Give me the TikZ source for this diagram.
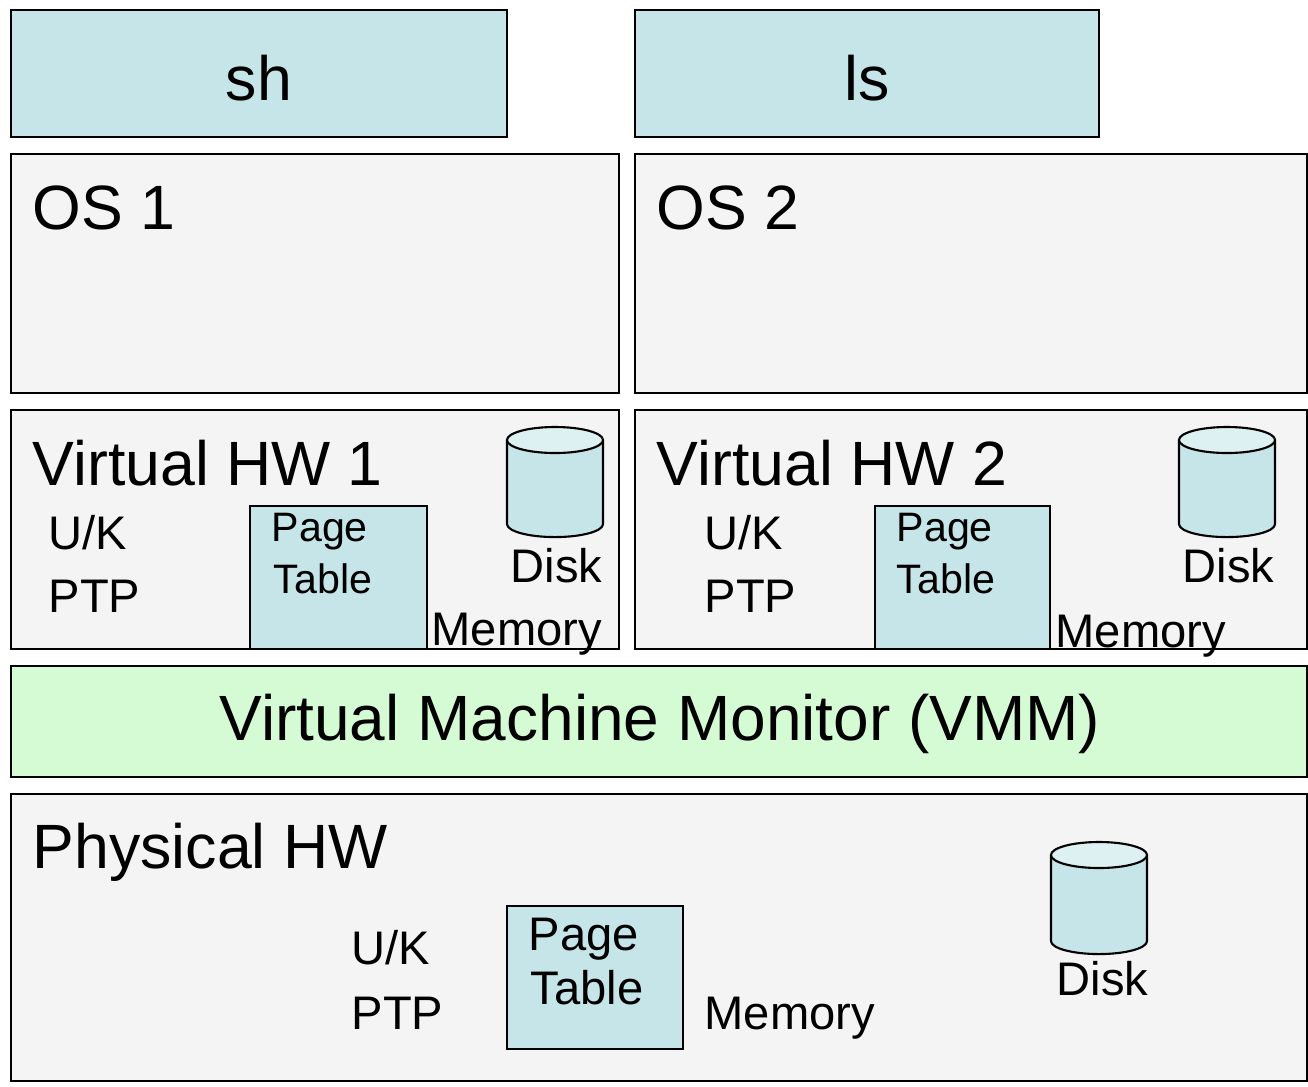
\documentclass[tikz,border=0pt]{standalone}
\usepackage{fontspec}
\setmainfont{Liberation Sans}
\definecolor{procfill}{HTML}{C5E5E8}
\definecolor{diskend}{HTML}{DDF1F3}
\definecolor{layerfill}{HTML}{F4F4F4}
\definecolor{vmmfill}{HTML}{D5FBD5}
\tikzset{
  layer/.style={draw=black,line width=0.6pt,fill=layerfill},
  big/.style={inner sep=0pt,font=\fontsize{17.8}{20}\selectfont},
  mid/.style={inner sep=0pt,font=\fontsize{13.4}{15}\selectfont},
  small/.style={inner sep=0pt,font=\fontsize{11.7}{13}\selectfont},
  pics/disk/.style={code={
    \filldraw[line width=0.6pt,fill=procfill] (-0.48cm,-0.13cm) -- (-0.48cm,-#1)
      arc[start angle=180,end angle=360,x radius=0.48cm,y radius=0.13cm] -- (0.48cm,-0.13cm);
    \filldraw[line width=0.6pt,fill=diskend] (0,-0.13cm) ellipse[x radius=0.48cm,y radius=0.13cm];
  }}
}
\begin{document}
\begin{tikzpicture}[x=0.01cm,y=-0.01cm]
\useasboundingbox (0,0) rectangle (1308,1087);
% processes
\filldraw[layer,fill=procfill] (11,10) rectangle (507,137);
\node[big,anchor=base] (sh) at (259,100) {sh};
\filldraw[layer,fill=procfill] (635,10) rectangle (1099,137);
\node[big,anchor=base] (ls) at (867,100) {ls};
% guest OS
\filldraw[layer] (11,154) rectangle (619,393);
\node[big,anchor=base west] (os1) at (32,229) {OS 1};
\filldraw[layer] (635,154) rectangle (1307,393);
\node[big,anchor=base west] (os2) at (656,229) {OS 2};
% virtual hardware 1
\filldraw[layer] (11,410) rectangle (619,649);
\node[big,anchor=base west] (vhw1) at (32,485) {Virtual HW 1};
\node[mid,anchor=base west] (uk1) at (48,549) {U/K};
\node[mid,anchor=base west] (ptp1) at (48,612) {PTP};
\filldraw[layer,fill=procfill] (250,506) rectangle (427,649);
\node[small,anchor=base west] (page1) at (271,541) {Page};
\node[small,anchor=base west] (table1) at (273,593) {Table};
\pic (disk1) at (555,427) {disk=0.97cm};
\node[mid,anchor=base east] (dlab1) at (603,582) {Disk};
\node[mid,anchor=base west] (mem1) at (431,645) {Memory};
% virtual hardware 2
\filldraw[layer] (635,410) rectangle (1307,649);
\node[big,anchor=base west] (vhw2) at (656,485) {Virtual HW 2};
\node[mid,anchor=base west] (uk2) at (704,549) {U/K};
\node[mid,anchor=base west] (ptp2) at (704,612) {PTP};
\filldraw[layer,fill=procfill] (875,506) rectangle (1050,649);
\node[small,anchor=base west] (page2) at (896,541) {Page};
\node[small,anchor=base west] (table2) at (896,593) {Table};
\pic (disk2) at (1227,427) {disk=0.97cm};
\node[mid,anchor=base east] (dlab2) at (1275,582) {Disk};
\node[mid,anchor=base west] (mem2) at (1055,647) {Memory};
% monitor
\filldraw[layer,fill=vmmfill] (11,666) rectangle (1307,777);
\node[inner sep=0pt,font=\fontsize{18.2}{20}\selectfont,anchor=base] (vmm) at (660,740) {Virtual Machine Monitor (VMM)};
% physical hardware
\filldraw[layer] (11,794) rectangle (1307,1081);
\node[big,anchor=base west] (phw) at (32,868) {Physical HW};
\node[mid,anchor=base west] (uk0) at (351,964) {U/K};
\node[mid,anchor=base west] (ptp0) at (351,1029) {PTP};
\filldraw[layer,fill=procfill] (507,906) rectangle (683,1049);
\node[mid,anchor=base west] (page0) at (528,950) {Page};
\node[mid,anchor=base west] (table0) at (530,1004) {Table};
\node[mid,anchor=base west] (mem0) at (704,1029) {Memory};
\pic (disk0) at (1099,842) {disk=0.99cm};
\node[mid,anchor=base west] (dlab0) at (1056,995) {Disk};
\end{tikzpicture}
\end{document}
